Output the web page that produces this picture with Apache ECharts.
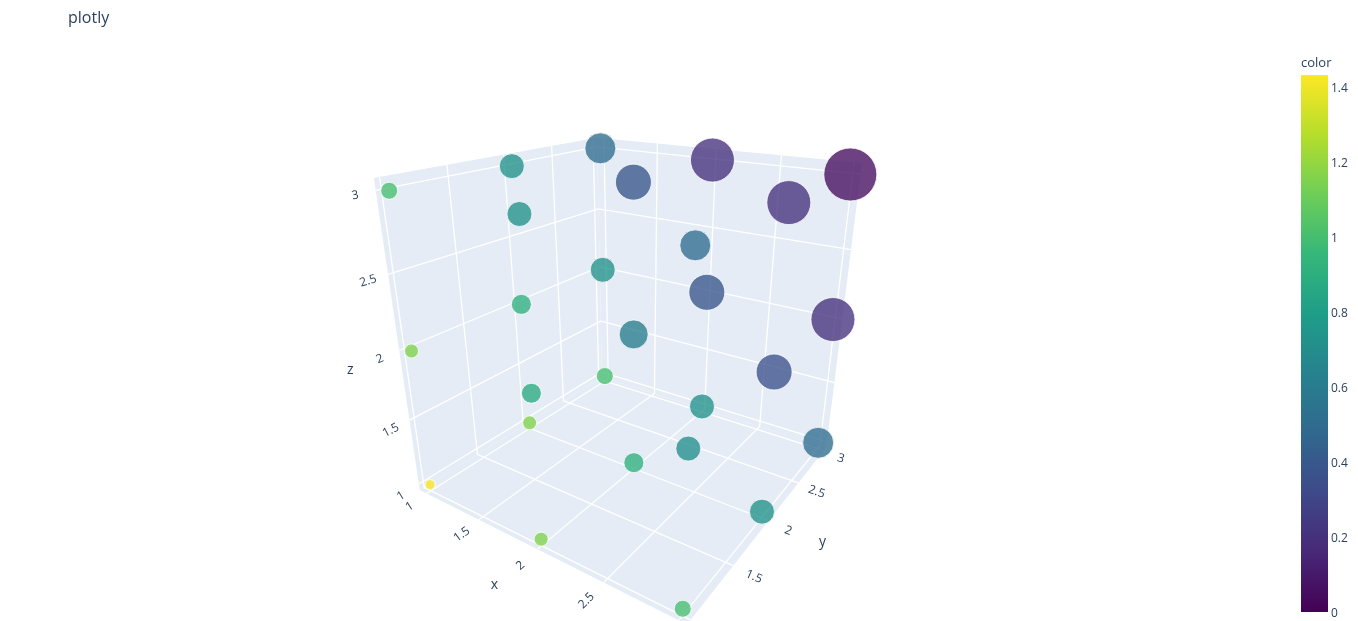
<!DOCTYPE html>
<html><head><meta charset="utf-8">
<style>html,body{margin:0;padding:0;background:#fff}#c{width:1358px;height:621px}</style>
<script src="https://cdn.jsdelivr.net/npm/echarts@6/dist/echarts.min.js"></script>
</head><body><div id="c"></div>
<script>
var xValues = [1,2,3,1,2,3,1,2,3, 1,2,3,1,2,3,1,2,3, 1,2,3,1,2,3,1,2,3];
var yValues = [1,1,1,2,2,2,3,3,3, 1,1,1,2,2,2,3,3,3, 1,1,1,2,2,2,3,3,3];
var zValues = [1,1,1,1,1,1,1,1,1, 2,2,2,2,2,2,2,2,2, 3,3,3,3,3,3,3,3,3];
var colorValues = [1.42,1.15,1.0,1.15,0.9,0.72,1.0,0.72,0.5,
                   1.15,0.88,0.7,0.9,0.6,0.36,0.72,0.38,0.2,
                   1.0,0.72,0.5,0.72,0.38,0.2,0.5,0.2,0.05];
var sizeValues = [10,14,17,14,20,25,17,25,31,
                  14,20,25,20,29,36,25,36,44,
                  17,25,31,25,36,44,31,44,53];
var tickValues = [1,1.5,2,2.5,3];
var colorbarTicks = [1.43];
var viridis = ['#440154','#482878','#3e4989','#31688e','#26828e','#1f9e89','#35b779','#6ece58','#b5de2b','#fde725'];

// camera: corners of a reference cube around the scene as seen on the page, fitted to a projection matrix
var lo = 0.945, hi = 3.055;
var sceneCorners = [
  [lo,lo,lo,417,494],[lo,lo,hi,375,181],[lo,hi,lo,606,376],[lo,hi,hi,597,141],
  [hi,hi,lo,825,450],[hi,hi,hi,864,164],[hi,lo,lo,688,626],[hi,lo,hi,700,238]
];
function fitCamera(a){
  var n=11,A=[],i,j,k;
  for(i=0;i<n;i++){A.push(new Array(n+1).fill(0));}
  function add(r,b){for(i=0;i<n;i++){for(j=0;j<n;j++)A[i][j]+=r[i]*r[j];A[i][n]+=r[i]*b;}}
  a.forEach(function(c){
    var X=c[0],Y=c[1],Z=c[2],u=c[3],v=c[4];
    add([X,Y,Z,1,0,0,0,0,-u*X,-u*Y,-u*Z],u);
    add([0,0,0,0,X,Y,Z,1,-v*X,-v*Y,-v*Z],v);
  });
  for(i=0;i<n;i++){
    var p=i;for(k=i+1;k<n;k++)if(Math.abs(A[k][i])>Math.abs(A[p][i]))p=k;
    var t=A[i];A[i]=A[p];A[p]=t;
    for(k=0;k<n;k++){if(k===i)continue;var f=A[k][i]/A[i][i];for(j=i;j<=n;j++)A[k][j]-=f*A[i][j];}
  }
  var s=[];for(i=0;i<n;i++)s.push(A[i][n]/A[i][i]);
  return s;
}
var cam = fitCamera(sceneCorners);
function project(X,Y,Z){
  var w=cam[8]*X+cam[9]*Y+cam[10]*Z+1;
  return [(cam[0]*X+cam[1]*Y+cam[2]*Z+cam[3])/w,(cam[4]*X+cam[5]*Y+cam[6]*Z+cam[7])/w];
}
// drawn axis ranges
var xr=[0.93,3.05], yr=[0.962,3.05], zr=[0.95,3.07];
var panes = [
  [[xr[0],yr[0],zr[0]],[xr[0],yr[1],zr[0]],[xr[0],yr[1],zr[1]],[xr[0],yr[0],zr[1]]],
  [[xr[0],yr[1],zr[0]],[xr[1],yr[1],zr[0]],[xr[1],yr[1],zr[1]],[xr[0],yr[1],zr[1]]],
  [[xr[0],yr[0],zr[0]],[xr[1],yr[0],zr[0]],[xr[1],yr[1],zr[0]],[xr[0],yr[1],zr[0]]]
];
var gridSegments = [];
tickValues.forEach(function(t){
  gridSegments.push([[xr[0],t,zr[0]],[xr[0],t,zr[1]]]);
  gridSegments.push([[xr[0],yr[0],t],[xr[0],yr[1],t]]);
  gridSegments.push([[t,yr[1],zr[0]],[t,yr[1],zr[1]]]);
  gridSegments.push([[xr[0],yr[1],t],[xr[1],yr[1],t]]);
  gridSegments.push([[t,yr[0],zr[0]],[t,yr[1],zr[0]]]);
  gridSegments.push([[xr[0],t,zr[0]],[xr[1],t,zr[0]]]);
});
function angleOf(a,b){ // readable-text rotation along a projected line
  var p=project(a[0],a[1],a[2]),q=project(b[0],b[1],b[2]);
  var r=Math.atan2(-(q[1]-p[1]),q[0]-p[0]);
  if(r>Math.PI/2)r-=Math.PI; if(r<-Math.PI/2)r+=Math.PI;
  return r;
}
// tick-label standoff in pixels at the low and high end of each axis
var labelOffset = {x:[[-17,13],[-17,20]], y:[[22,12],[17,8]], z:[[-18,12],[-20.5,5]]};
function standoff(axis,t){
  var a=labelOffset[axis][0],b=labelOffset[axis][1],f=(t-1)/2;
  return [a[0]+(b[0]-a[0])*f,a[1]+(b[1]-a[1])*f];
}
var tickLabels = [];
tickValues.forEach(function(t){
  tickLabels.push({w:[t,yr[0],zr[0]],o:standoff('x',t),r:angleOf([t,yr[0],zr[0]],[t,yr[1],zr[0]]),s:String(t),f:12});
  tickLabels.push({w:[xr[1],t,zr[0]],o:standoff('y',t),r:angleOf([xr[0],t,zr[0]],[xr[1],t,zr[0]]),s:String(t),f:12});
  tickLabels.push({w:[xr[0],yr[0],t],o:standoff('z',t),r:angleOf([xr[0],yr[0],t],[xr[0],yr[1],t]),s:String(t),f:12});
});
var axisTitles = [
  {w:[2,yr[0],zr[0]],o:[-43,36],r:0,s:'x',f:14},
  {w:[xr[1],2,zr[0]],o:[54,21],r:0,s:'y',f:14},
  {w:[xr[0],yr[0],2],o:[-49,20],r:0,s:'z',f:14}
];
var allLabels = tickLabels.concat(axisTitles).filter(function(l){
  var p=project(l.w[0],l.w[1],l.w[2]);
  return p[1]+l.o[1] < 612;
});
var points = xValues.map(function(x,i){
  var p=project(x,yValues[i],zValues[i]);
  return [p[0],p[1],colorValues[i],sizeValues[i]];
});
var ink='#2a3f5f', font='"Open Sans",sans-serif';
var chart = echarts.init(document.getElementById('c'));
chart.setOption({
  animation:false,
  backgroundColor:'#fff',
  title:{text:'plotly',left:68,top:10,padding:0,textStyle:{color:ink,fontSize:16,fontWeight:'normal',fontFamily:font}},
  grid:[
    {left:0,top:0,width:1358,height:621},
    {left:1301,top:75,width:27,height:537},
    {left:1301,top:77,width:27,height:537}
  ],
  xAxis:[
    {type:'value',gridIndex:0,min:0,max:1358,show:false},
    {type:'category',gridIndex:1,data:['color'],show:false},
    {type:'category',gridIndex:2,data:['color'],show:false}
  ],
  yAxis:[
    {type:'value',gridIndex:0,min:0,max:621,inverse:true,show:false},
    {type:'value',gridIndex:1,min:0,max:colorbarTicks[0],show:false},
    {type:'value',gridIndex:2,min:0,max:colorbarTicks[0],interval:0.2,position:'right',
     name:'color',nameLocation:'end',nameGap:7,
     nameTextStyle:{color:ink,fontSize:13,fontFamily:font,align:'left',padding:[0,0,0,-27]},
     splitLine:{show:false},axisLine:{show:false},axisTick:{show:false},
     axisLabel:{color:ink,fontSize:12,fontFamily:font,margin:3,showMaxLabel:false,
       formatter:function(v){return String(Math.round(v*10)/10);}}}
  ],
  visualMap:[{show:false,type:'continuous',seriesIndex:3,dimension:2,min:0,max:colorbarTicks[0],inRange:{color:viridis}}],
  series:[
    {type:'custom',xAxisIndex:0,yAxisIndex:0,silent:true,clip:false,z:1,data:panes.map(function(_,i){return [i];}),
     encode:{x:0,y:0},
     renderItem:function(params,api){
       var pts=panes[api.value(0)].map(function(c){var p=project(c[0],c[1],c[2]);return api.coord(p);});
       return {type:'polygon',shape:{points:pts},style:{fill:'#e5ecf6',stroke:'none'}};
     }},
    {type:'custom',xAxisIndex:0,yAxisIndex:0,silent:true,clip:false,z:2,data:gridSegments.map(function(_,i){return [i];}),
     encode:{x:0,y:0},
     renderItem:function(params,api){
       var s=gridSegments[api.value(0)];
       var a=api.coord(project(s[0][0],s[0][1],s[0][2])),b=api.coord(project(s[1][0],s[1][1],s[1][2]));
       return {type:'line',shape:{x1:a[0],y1:a[1],x2:b[0],y2:b[1]},style:{stroke:'#fff',lineWidth:1.3}};
     }},
    {type:'custom',xAxisIndex:0,yAxisIndex:0,silent:true,clip:false,z:3,data:allLabels.map(function(_,i){return [i];}),
     encode:{x:0,y:0},
     renderItem:function(params,api){
       var l=allLabels[api.value(0)];
       var c=api.coord(project(l.w[0],l.w[1],l.w[2]));
       return {type:'text',x:c[0]+l.o[0],y:c[1]+l.o[1],rotation:l.r,
         style:{text:l.s,fill:ink,font:l.f+'px '+font,align:'center',verticalAlign:'middle'}};
     }},
    {type:'scatter',xAxisIndex:0,yAxisIndex:0,z:4,clip:false,silent:true,data:points,
     symbolSize:function(v){return v[3];},
     itemStyle:{opacity:0.78,borderColor:'#fff',borderWidth:1}},
    {type:'bar',xAxisIndex:1,yAxisIndex:1,barWidth:'100%',silent:true,data:colorbarTicks,
     itemStyle:{color:new echarts.graphic.LinearGradient(0,1,0,0,viridis.map(function(c,i){return {offset:i/(viridis.length-1),color:c};}))}}
  ]
});
</script></body></html>
